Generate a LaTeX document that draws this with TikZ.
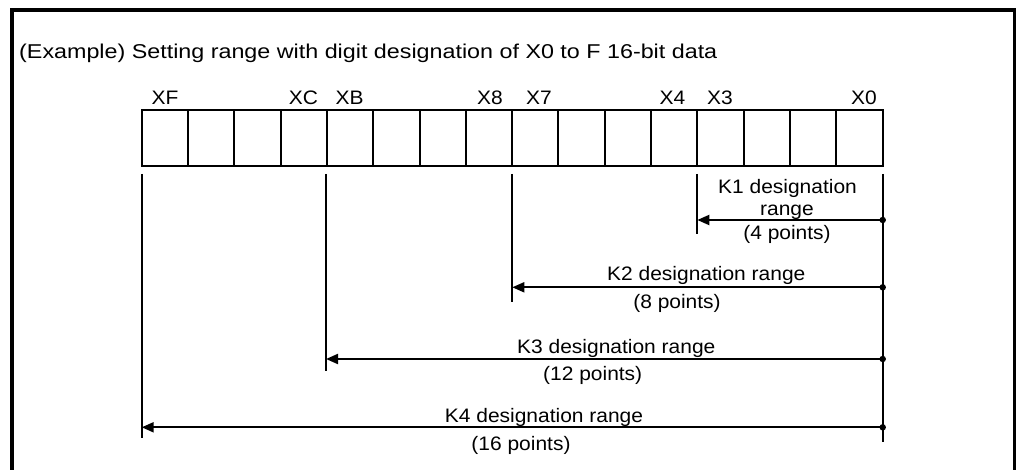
\documentclass[tikz,border=0pt]{standalone}
\usepackage{fontspec}
\setmainfont{Liberation Sans}
\newfontfamily\titlef[FakeStretch=1.165]{Liberation Sans}
\newfontfamily\lblf[FakeStretch=1.075]{Liberation Sans}
\usetikzlibrary{arrows.meta}
\begin{document}
\begin{tikzpicture}[x=1pt,y=-1pt,
  cell/.style={draw,line width=2pt,minimum width=46.3pt,minimum height=56pt,inner sep=0pt},
  bitlbl/.style={anchor=base,inner sep=0pt,font=\lblf\fontsize{19.5}{22}\selectfont},
  rlbl/.style={anchor=base,inner sep=0pt,font=\lblf\fontsize{19.5}{22}\selectfont},
  vline/.style={line width=2pt},
  arr/.style={line width=2pt,-{Triangle[length=12pt,width=10pt]}},
  dotc/.style={circle,fill,inner sep=0pt,minimum size=6.5pt}]
\useasboundingbox (0,0) rectangle (1016,470);
% frame
\draw[line width=4pt] (12,470) -- (12,8.35);
\draw[line width=3.3pt] (10,10) -- (1016,10);
\draw[line width=2.7pt] (1014.65,8.35) -- (1014.65,470);
% title
\node[anchor=base west,inner sep=0pt,font=\titlef\fontsize{20}{22}\selectfont] (title) at (19,58.5)
  {(Example) Setting range with digit designation of X0 to F 16-bit data};
% cells
\foreach \k in {0,...,15}{
  \pgfmathtruncatemacro{\b}{15-\k}
  \node[cell] (x\b) at ({141.7+46.3*(\k+0.5)},138) {};
}
% bit labels
\node[bitlbl] (lXF) at (165,105) {XF};
\node[bitlbl] (lXC) at (303.5,105) {XC};
\node[bitlbl] (lXB) at (349.5,105) {XB};
\node[bitlbl] (lX8) at (490,105) {X8};
\node[bitlbl] (lX7) at (539,105) {X7};
\node[bitlbl] (lX4) at (672.5,105) {X4};
\node[bitlbl] (lX3) at (720,105) {X3};
\node[bitlbl] (lX0) at (864,105) {X0};
% vertical lines
\coordinate (vRt) at (882.7,174); \coordinate (vRb) at (882.7,441.7);
\coordinate (v3t) at (697.3,174); \coordinate (v3b) at (697.3,234);
\coordinate (v7t) at (512.3,174); \coordinate (v7b) at (512.3,302);
\coordinate (vBt) at (326,174);   \coordinate (vBb) at (326,370.7);
\coordinate (vFt) at (141.7,174); \coordinate (vFb) at (141.7,438);
\draw[vline] (vRt) -- (vRb);
\draw[vline] (v3t) -- (v3b);
\draw[vline] (v7t) -- (v7b);
\draw[vline] (vBt) -- (vBb);
\draw[vline] (vFt) -- (vFb);
% arrows
\node[dotc] (d1) at (882.7,220) {};
\node[dotc] (d2) at (882.7,287.3) {};
\node[dotc] (d3) at (882.7,359) {};
\node[dotc] (d4) at (882.7,427.3) {};
\coordinate (e1) at (697.3,220);
\coordinate (e2) at (512.3,287.3);
\coordinate (e3) at (326,359);
\coordinate (e4) at (141.7,427.3);
\draw[arr] (d1.center) -- (e1);
\draw[arr] (d2.center) -- (e2);
\draw[arr] (d3.center) -- (e3);
\draw[arr] (d4.center) -- (e4);
% range labels
\node[rlbl] (k1a) at (787.5,194) {K1 designation};
\node[rlbl] (k1b) at (787,216) {range};
\node[rlbl] (k1c) at (787,240) {(4 points)};
\node[rlbl] (k2a) at (706.3,280.5) {K2 designation range};
\node[rlbl] (k2b) at (677,308) {(8 points)};
\node[rlbl] (k3a) at (616.3,353) {K3 designation range};
\node[rlbl] (k3b) at (592.7,380) {(12 points)};
\node[rlbl] (k4a) at (544,422) {K4 designation range};
\node[rlbl] (k4b) at (521,450.5) {(16 points)};
\end{tikzpicture}
\end{document}
